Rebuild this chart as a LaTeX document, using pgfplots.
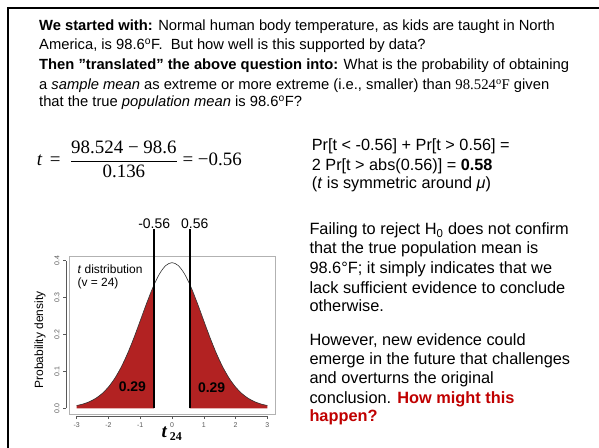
\documentclass[border=0pt]{standalone}
\usepackage[no-math]{fontspec}
\setmainfont{Liberation Sans}
\newfontfamily\serif{Liberation Serif}
\usepackage{pgfplots}
\pgfplotsset{compat=1.18}
\definecolor{fb}{RGB}{178,34,34}
\definecolor{hl}{RGB}{192,0,0}
\newcommand\fs[1]{\fontsize{#1}{#1}\selectfont}
\pgfplotstableread{
t f
-3 0.007372
-2.8 0.011531
-2.6 0.017750
-2.4 0.026830
-2.2 0.039727
-2.0 0.057484
-1.8 0.081085
-1.6 0.111218
-1.4 0.147985
-1.2 0.190573
-1.0 0.237016
-0.8 0.284129
-0.6 0.327764
-0.56 0.335669
}\lefttail
\pgfplotstableread{
t f
0.56 0.335669
0.6 0.327764
0.8 0.284129
1.0 0.237016
1.2 0.190573
1.4 0.147985
1.6 0.111218
1.8 0.081085
2.0 0.057484
2.2 0.039727
2.4 0.026830
2.6 0.017750
2.8 0.011531
3 0.007372
}\righttail
\pgfplotstableread{
t f
-3 0.007372
-2.8 0.011531
-2.6 0.017750
-2.4 0.026830
-2.2 0.039727
-2.0 0.057484
-1.8 0.081085
-1.6 0.111218
-1.4 0.147985
-1.2 0.190573
-1.0 0.237016
-0.8 0.284129
-0.6 0.327764
-0.4 0.363341
-0.2 0.386675
0 0.394808
0.2 0.386675
0.4 0.363341
0.6 0.327764
0.8 0.284129
1.0 0.237016
1.2 0.190573
1.4 0.147985
1.6 0.111218
1.8 0.081085
2.0 0.057484
2.2 0.039727
2.4 0.026830
2.6 0.017750
2.8 0.011531
3 0.007372
}\curve
\begin{document}
\begin{tikzpicture}
\useasboundingbox (0,0) rectangle (599bp,448bp);
\clip (0,0) rectangle (599bp,448bp);
\fill[white] (0,0) rectangle (599bp,448bp);
\draw[line width=2.3bp] (8bp,-5bp) -- (8bp,440bp) -- (610bp,440bp);
% top text
\begin{scope}[every node/.style={anchor=base west, inner sep=0pt, font=\fs{14.8}}]
\node at (39bp,417.3bp) {\textbf{We started with:} Normal human body temperature, as kids are taught in North};
\node at (39bp,398bp) {America, is 98.6\textsuperscript{o}F.\ \ But how well is this supported by data?};
\node at (39bp,378.7bp) {\textbf{Then ”translated” the above question into:} What is the probability of obtaining};
\node at (39bp,358.7bp) {a \textit{sample mean} as extreme or more extreme (i.e., smaller) than {\serif 98.524\textsuperscript{o}F} given};
\node at (39bp,341.3bp) {that the true \textit{population mean} is 98.6\textsuperscript{o}F?};
\end{scope}
% equation
\node[anchor=base west, inner sep=0pt] at (36.7bp,282.8bp) {\fs{19}\serif$\displaystyle \mbox{\itshape t}\,\mathrel{\mbox{=}}\;\frac{\mbox{98.524 − 98.6}}{\mbox{0.136}}\mathrel{\mbox{=}}\mbox{−0.56}$};
% right text
\begin{scope}[every node/.style={anchor=base west, inner sep=0pt, font=\fs{16.3}}]
\node at (311.7bp,297.3bp) {Pr[t < -0.56] + Pr[t > 0.56] =};
\node at (311.7bp,277.5bp) {2 Pr[t > abs(0.56)] = \textbf{0.58}};
\node at (311.7bp,259.7bp) {(\textit{t} is symmetric around \textit{μ})};
\end{scope}
\begin{scope}[every node/.style={anchor=base west, inner sep=0pt, font=\fs{16.4}}]
\node at (309.3bp,213bp) {Failing to reject H\textsubscript{0} does not confirm};
\node at (309.3bp,194.7bp) {that the true population mean is};
\node at (309.3bp,174.7bp) {98.6°F; it simply indicates that we};
\node at (309.3bp,154bp) {lack sufficient evidence to conclude};
\node at (309.3bp,136.3bp) {otherwise.};
\node at (309.3bp,102bp) {However, new evidence could};
\node at (309.3bp,83.7bp) {emerge in the future that challenges};
\node at (309.3bp,64.7bp) {and overturns the original};
\node at (309.3bp,44bp) {conclusion. \textcolor{hl}{\textbf{How might this}}};
\node at (309.3bp,26.3bp) {\textcolor{hl}{\textbf{happen?}}};
\end{scope}
% chart
\begin{axis}[at={(69bp,33.9bp)}, anchor=south west, scale only axis,
  width=206bp, height=157.3bp,
  xmin=-3.24, xmax=3.24, ymin=-0.0158, ymax=0.4106, clip=false,
  axis line style={draw=gray!60, line width=0.6bp},
  xtick={-3,-2,-1,0,1,2,3}, xticklabels={-3,-2,-1,0,1,2,3},
  ytick={0,0.1,0.2,0.3,0.4}, yticklabels={0.0,0.1,0.2,0.3,0.4},
  tick pos=left, tick align=outside, major tick length=3bp,
  xtick style={draw=gray!70!black, line width=0.5bp, yshift=-2bp},
  ytick style={draw=gray!70!black, line width=0.5bp, xshift=-3bp},
  xticklabel style={font=\fs{7}, text=gray!70!black, yshift=-2bp},
  yticklabel style={font=\fs{7}, text=gray!70!black, xshift=-3bp, rotate=90, anchor=south},
]
\addplot[fill=fb, draw=none] table[x=t,y=f] {\lefttail} \closedcycle;
\addplot[fill=fb, draw=none] table[x=t,y=f] {\righttail} \closedcycle;
\addplot[gray!40!black, line width=0.6bp, smooth] table[x=t,y=f] {\curve};
\addplot[black, line width=1.8bp] coordinates {(-0.56,0) (-0.56,0.486)};
\addplot[black, line width=1.8bp] coordinates {(0.56,0) (0.56,0.486)};
\draw[gray!70!black, line width=0.5bp] ([yshift=-2bp]axis cs:-3,-0.0158) -- ([yshift=-2bp]axis cs:3,-0.0158);
\draw[gray!70!black, line width=0.5bp] ([xshift=-3bp]axis cs:-3.24,0) -- ([xshift=-3bp]axis cs:-3.24,0.4);
\node[anchor=south, inner sep=0.5bp, font=\fs{14}] at (axis cs:-0.56,0.486) {-0.56};
\node[anchor=south, inner sep=0.5bp, font=\fs{14}, xshift=5bp] at (axis cs:0.56,0.486) {0.56};
\node[anchor=base west, inner sep=0pt, font=\fs{12}] at (axis cs:-2.977,0.366) {\textit{t} distribution};
\node[anchor=base west, inner sep=0pt, font=\fs{12}] at (axis cs:-2.977,0.3295) {(v = 24)};
\node[font=\fs{14}\bfseries] at (axis cs:-1.245,0.058) {0.29};
\node[font=\fs{14}\bfseries] at (axis cs:1.245,0.057) {0.29};
\end{axis}
\node[rotate=90, font=\fs{12}] at (40bp,108bp) {Probability density};
\node[anchor=base, inner sep=0pt] at (171.7bp,10.5bp) {\serif\bfseries\itshape\fs{19}t\,\raisebox{-3bp}{\upshape\fs{12}24}};
\end{tikzpicture}
\end{document}
